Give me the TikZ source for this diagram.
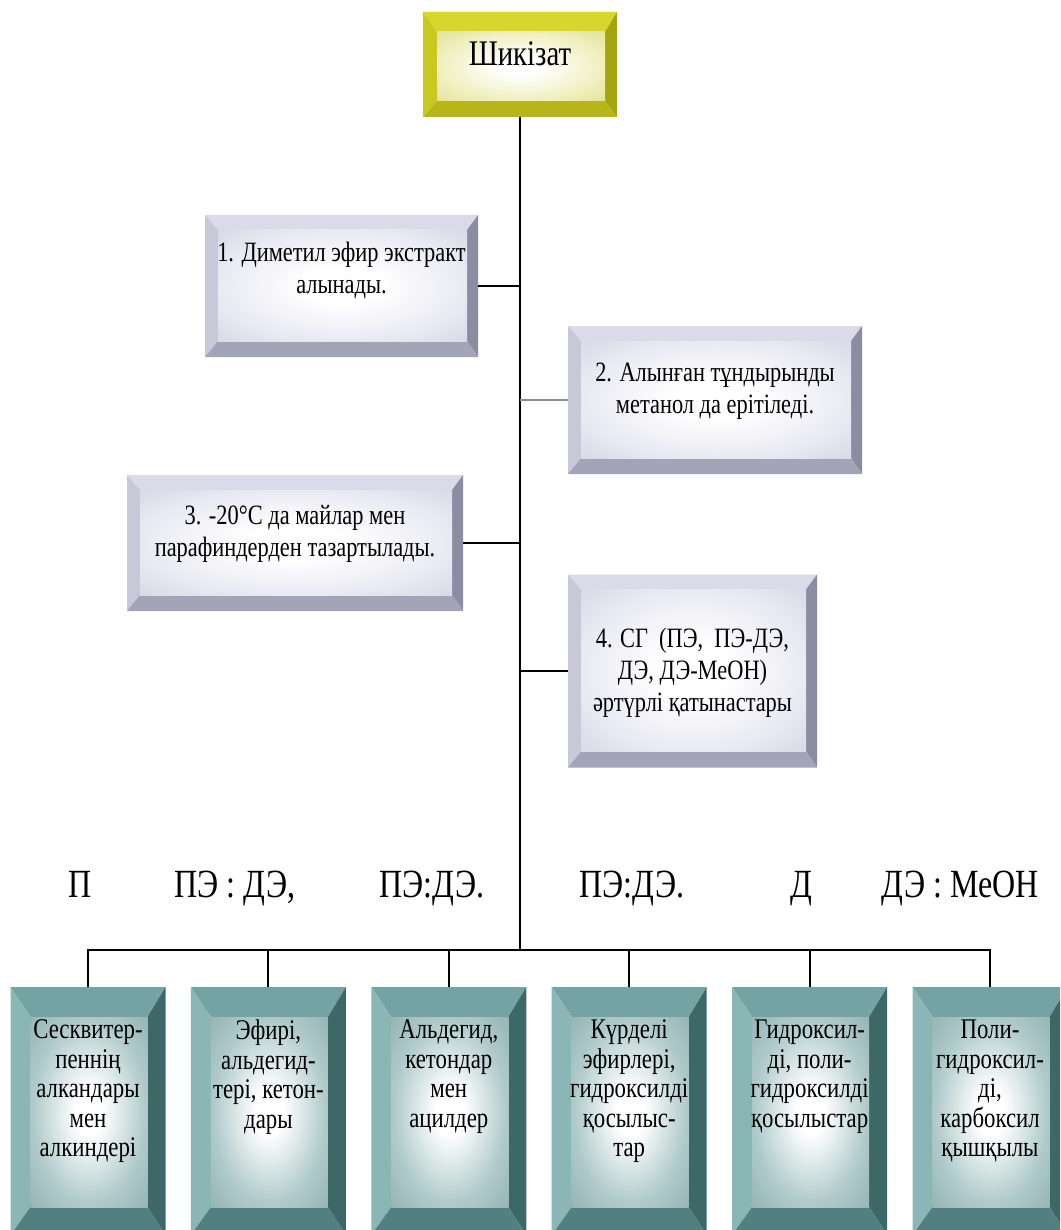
\documentclass[tikz,border=0pt]{standalone}
\usepackage{fontspec}
\setmainfont{Liberation Serif}[FakeStretch=0.8]
\usetikzlibrary{calc}
\definecolor{yT}{HTML}{D6D62C}
\definecolor{yL}{HTML}{C8C820}
\definecolor{yR}{HTML}{A4A40C}
\definecolor{yB}{HTML}{B6B618}
\definecolor{yIn}{HTML}{F0F0C0}
\definecolor{yIn2}{HTML}{DEDE8C}
\definecolor{sT}{HTML}{DADAE8}
\definecolor{sL}{HTML}{C8C8D8}
\definecolor{sR}{HTML}{8C8CA2}
\definecolor{sB}{HTML}{A4A4B8}
\definecolor{sIn}{HTML}{E8E8F2}
\definecolor{sIn2}{HTML}{D2D2E2}
\definecolor{tT}{HTML}{73A3A3}
\definecolor{tL}{HTML}{8AB6B6}
\definecolor{tR}{HTML}{3C6868}
\definecolor{tB}{HTML}{527F7F}
\definecolor{tIn}{HTML}{B0CACA}
\definecolor{tIn2}{HTML}{8AACAC}
\definecolor{lnGray}{HTML}{8C8C8C}
\pgfdeclareradialshading{yShade}{\pgfpoint{0bp}{0bp}}{color(0bp)=(white); color(6bp)=(white); color(24bp)=(yIn); color(40bp)=(yIn2); color(50bp)=(yIn2)}
\pgfdeclareradialshading{sShade}{\pgfpoint{0bp}{0bp}}{color(0bp)=(white); color(8bp)=(white); color(26bp)=(sIn); color(40bp)=(sIn2); color(50bp)=(sIn2)}
\pgfdeclareradialshading{tShade}{\pgfpoint{0bp}{0bp}}{color(0bp)=(white); color(6bp)=(white); color(24bp)=(tIn); color(40bp)=(tIn2); color(50bp)=(tIn2)}
\newcommand\btext[3]{\begin{minipage}[c][#1][t]{#2}\centering #3\end{minipage}}
\tikzset{
  bvT/.store in=\bvT, bvL/.store in=\bvL, bvR/.store in=\bvR, bvB/.store in=\bvB,
  cT/.store in=\cT, cL/.store in=\cL, cR/.store in=\cR, cB/.store in=\cB, cSh/.store in=\cSh,
  bevel/.style={rectangle, inner sep=0pt, outer sep=0pt,
    path picture={
      \coordinate (bsw) at (path picture bounding box.south west);
      \coordinate (bne) at (path picture bounding box.north east);
      \coordinate (isw) at ([shift={(\bvL,\bvB)}]bsw);
      \coordinate (ine) at ([shift={(-\bvR,-\bvT)}]bne);
      \fill[\cT] (bsw|-bne) -- (bne) -- (ine) -- (isw|-ine) -- cycle;
      \fill[\cL] (bsw) -- (bsw|-bne) -- (isw|-ine) -- (isw) -- cycle;
      \fill[\cR] (bne) -- (bne|-bsw) -- (ine|-isw) -- (ine) -- cycle;
      \fill[\cB] (bsw) -- (bne|-bsw) -- (ine|-isw) -- (isw) -- cycle;
      \shade[shading=\cSh] (isw) rectangle (ine);
    }},
  topbox/.style={bevel, bvT=20pt, bvL=14pt, bvR=12pt, bvB=16pt,
    cT=yT, cL=yL, cR=yR, cB=yB, cSh=yShade, font=\fontsize{36}{40}\selectfont},
  stepbox/.style={bevel, bvT=15pt, bvL=13pt, bvR=11pt, bvB=16pt,
    cT=sT, cL=sL, cR=sR, cB=sB, cSh=sShade, font=\fontsize{28}{32}\selectfont},
  botbox/.style={bevel, bvT=30pt, bvL=20pt, bvR=18pt, bvB=28pt,
    minimum width=155pt, minimum height=248pt,
    cT=tT, cL=tL, cR=tR, cB=tB, cSh=tShade, font=\fontsize{28.5}{29.5}\selectfont},
  lbl/.style={inner sep=0pt, anchor=base, font=\fontsize{40}{44}\selectfont},
  ln/.style={line width=2.5pt, black},
  busln/.style={line width=2pt, black}
}
\begin{document}
\begin{tikzpicture}[x=1pt, y=-1pt]
\useasboundingbox (0,0) rectangle (1060,1230);
\clip (0,0) rectangle (1060,1230);
\fill[white] (0,0) rectangle (1060,1230);

\node[topbox, minimum width=194pt, minimum height=105pt] (top) at (520,64.5)
  {\btext{45pt}{180pt}{Шикізат}};

\node[stepbox, minimum width=273pt, minimum height=142pt] (s1) at (341.5,286)
  {\btext{88pt}{262pt}{1. Диметил эфир экстракт\\алынады.}};
\node[stepbox, minimum width=294pt, minimum height=148pt] (s2) at (715,400)
  {\btext{74pt}{280pt}{2. Алынған тұндырынды\\метанол да ерітіледі.}};
\node[stepbox, minimum width=336pt, minimum height=136pt] (s3) at (295,543)
  {\btext{76pt}{320pt}{3. -20°C да майлар мен\\парафиндерден тазартылады.}};
\node[stepbox, minimum width=249pt, minimum height=193pt] (s4) at (692.5,671)
  {\btext{86pt}{240pt}{4. СГ\ \ (ПЭ,\ \ ПЭ-ДЭ,\\ДЭ, ДЭ-МеОН)\\әртүрлі қатынастары}};

\node[lbl] (l1) at (80,897) {П};
\node[lbl] (l2) at (235,897) {ПЭ : ДЭ,};
\node[lbl] (l3) at (432,897) {ПЭ:ДЭ.};
\node[lbl] (l4) at (632,897) {ПЭ:ДЭ.};
\node[lbl] (l5) at (801,897) {Д};
\node[lbl] (l6) at (960,897) {ДЭ : МеОН};

\node[botbox] (c1) at (88,1111)
  {\btext{182pt}{134pt}{Сесквитер-\\пеннің\\алкандары\\мен\\алкиндері}};
\node[botbox] (c2) at (268.4,1111)
  {\btext{182pt}{134pt}{Эфирі,\\альдегид-\\тері, кетон-\\дары}};
\node[botbox] (c3) at (448.8,1111)
  {\btext{182pt}{134pt}{Альдегид,\\кетондар\\мен\\ацилдер}};
\node[botbox] (c4) at (629.2,1111)
  {\btext{182pt}{134pt}{Күрделі\\эфирлері,\\гидроксилді\\қосылыс-\\тар}};
\node[botbox] (c5) at (809.6,1111)
  {\btext{182pt}{134pt}{Гидроксил-\\ді, поли-\\гидроксилді\\қосылыстар}};
\node[botbox] (c6) at (990,1111)
  {\btext{182pt}{134pt}{Поли-\\гидроксил-\\ді,\\карбоксил\\қышқылы}};

\coordinate (bus) at ($(c1.north)+(0,-37)$);
\draw[ln] (top.south) -- (top.south |- bus);
\draw[ln] (s1.east) -- (s1.east -| top.south);
\draw[ln, lnGray] (s2.west) -- (s2.west -| top.south);
\draw[ln] (s3.east) -- (s3.east -| top.south);
\draw[ln] (s4.west) -- (s4.west -| top.south);
\draw[busln] (c1.north) -- (c1.north |- bus) -- (c6.north |- bus) -- (c6.north);
\foreach \i in {2,...,5} \draw[busln] (c\i.north) -- (c\i.north |- bus);
\end{tikzpicture}
\end{document}
